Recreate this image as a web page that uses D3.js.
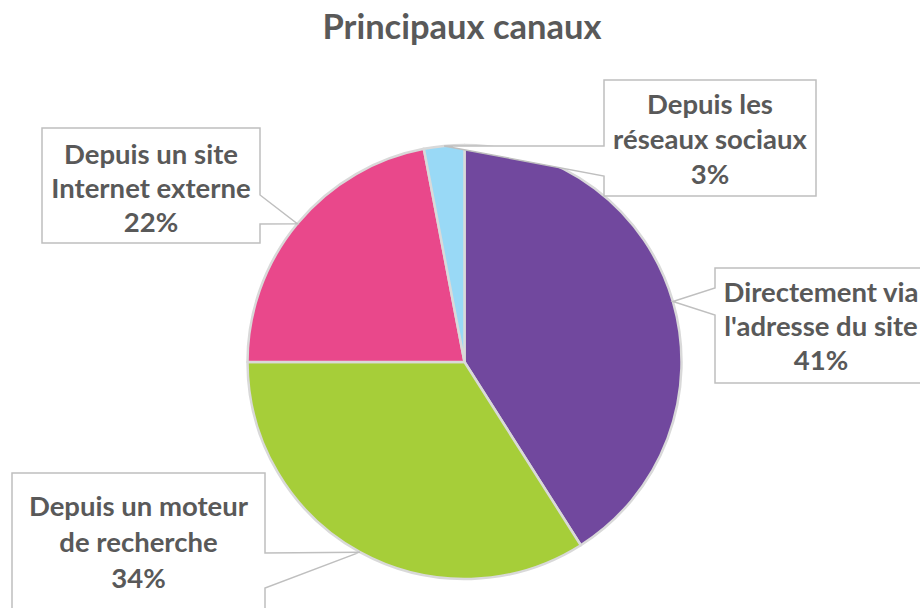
<!DOCTYPE html>
<html>
<head>
<meta charset="utf-8">
<script src="https://cdn.jsdelivr.net/npm/d3@7"></script>
<style>
  body { margin: 0; background: #fff; }
  svg { display: block; }
  text { font-family: Lato, "Open Sans", sans-serif; font-weight: 700; fill: #595959; }
</style>
</head>
<body>
<svg id="chart" width="920" height="608"></svg>
<script>
  // data
  const title = "Principaux canaux";
  const categories = [
    "Directement via l'adresse du site",
    "Depuis un moteur de recherche",
    "Depuis un site Internet externe",
    "Depuis les réseaux sociaux"
  ];
  const values = [41, 34, 22, 3];
  const labelLines = [
    ["Directement via", "l'adresse du site"],
    ["Depuis un moteur", "de recherche"],
    ["Depuis un site", "Internet externe"],
    ["Depuis les", "réseaux sociaux"]
  ];
  const colors = ["#71489e", "#a6ce39", "#e9488b", "#99d9f6"];

  // callout layout: box, wedge base on one side, first text baseline and line step
  const callouts = [
    { x0: 715, y0: 268, x1: 927, y1: 383, side: "left",  b0: 288, b1: 315, ty: 34, step: 34 },
    { x0: 12,  y0: 473, x1: 265, y1: 620, side: "right", b0: 553, b1: 588, ty: 43, step: 36 },
    { x0: 42,  y0: 128, x1: 260, y1: 243, side: "right", b0: 195, b1: 224, ty: 36, step: 34 },
    { x0: 604, y0: 80,  x1: 816, y1: 196, side: "left",  b0: 146, b1: 176, ty: 34, step: 35 }
  ];

  const svg = d3.select("#chart");
  const cx = 464.5, cy = 362, r = 217;

  svg.append("text")
    .attr("x", 462).attr("y", 39)
    .attr("text-anchor", "middle")
    .attr("font-size", 34.5)
    .text(title);

  const pie = d3.pie().sort(null).value(d => d)(values);
  const arc = d3.arc().innerRadius(0).outerRadius(r);
  const rim = d3.arc().innerRadius(r).outerRadius(r);

  const g = svg.append("g").attr("transform", `translate(${cx},${cy})`);
  g.selectAll("path.slice")
    .data(pie)
    .join("path")
    .attr("class", "slice")
    .attr("d", arc)
    .attr("fill", (d, i) => colors[i])
    .attr("stroke", "#d9d9d9")
    .attr("stroke-width", 2.5)
    .attr("stroke-linejoin", "round");

  // callouts
  const lab = svg.append("g");
  pie.forEach((d, i) => {
    const c = callouts[i];
    const [tx, ty] = rim.centroid(d);
    const tipX = cx + tx, tipY = cy + ty;
    let pts;
    if (c.side === "right") {
      pts = [[c.x0, c.y0], [c.x1, c.y0], [c.x1, c.b0], [tipX, tipY], [c.x1, c.b1], [c.x1, c.y1], [c.x0, c.y1]];
    } else {
      pts = [[c.x0, c.y0], [c.x1, c.y0], [c.x1, c.y1], [c.x0, c.y1], [c.x0, c.b1], [tipX, tipY], [c.x0, c.b0]];
    }
    lab.append("path")
      .attr("d", d3.line()(pts) + "Z")
      .attr("fill", "#fff")
      .attr("stroke", "#bfbfbf")
      .attr("stroke-width", 1.5);

    const lines = labelLines[i].concat([values[i] + "%"]);
    const mx = (c.x0 + c.x1) / 2;
    const t = lab.append("text")
      .attr("text-anchor", "middle")
      .attr("font-size", 27.5);
    lines.forEach((s, k) => {
      t.append("tspan")
        .attr("x", mx)
        .attr("y", c.y0 + c.ty + k * c.step)
        .text(s);
    });
  });
</script>
</body>
</html>
